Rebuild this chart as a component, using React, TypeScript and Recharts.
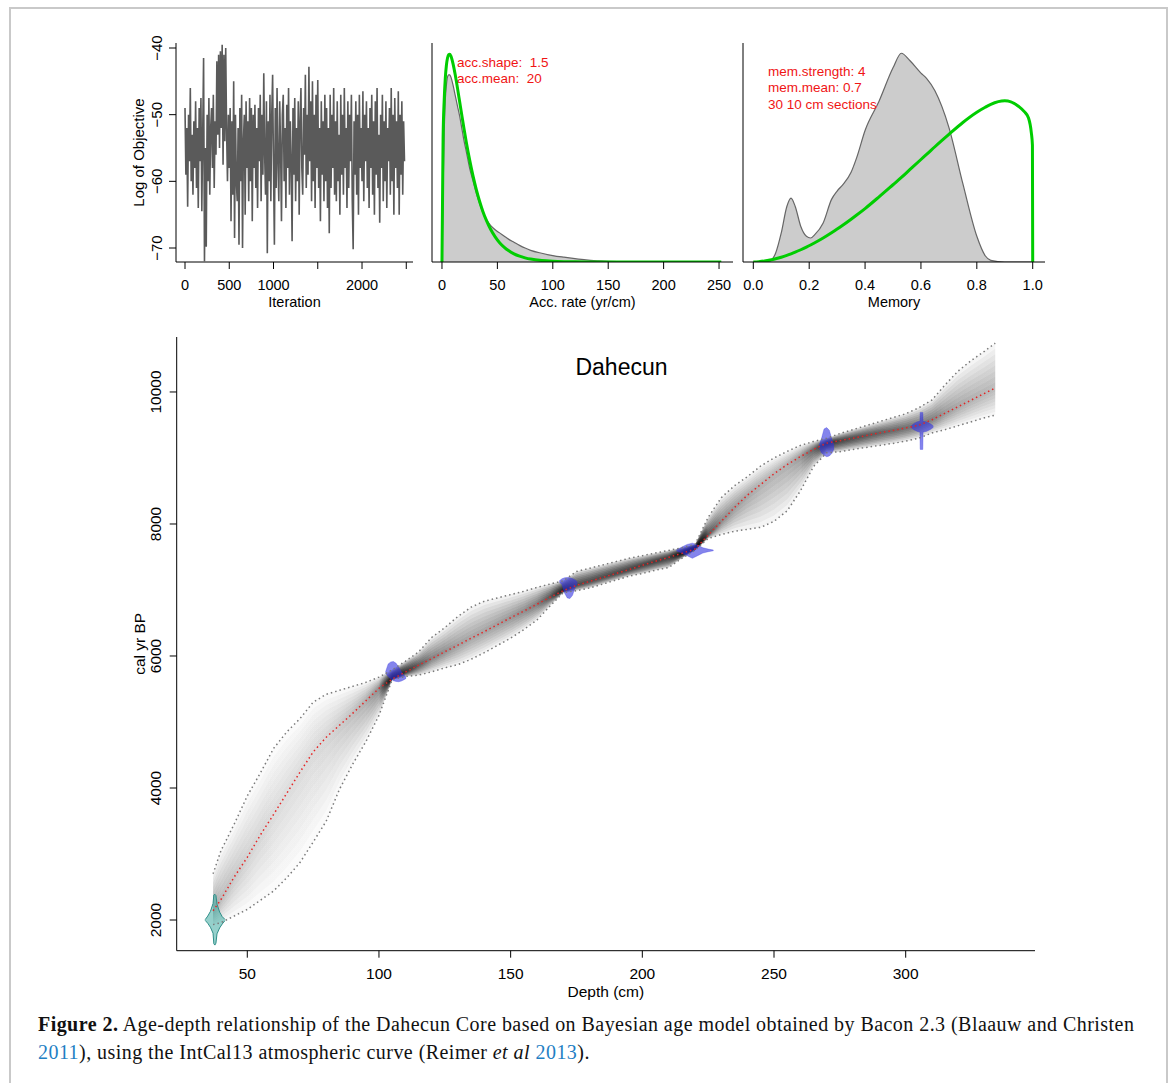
import React from 'react';
import { ComposedChart, LineChart, Line, Area, XAxis, YAxis } from 'recharts';

const SANS = '"Liberation Sans", Arial, Helvetica, sans-serif';
const SERIF = '"Liberation Serif", "Times New Roman", serif';
const LINK = '#1f7fc4';

// --- MCMC trace (log of objective, every 10th iteration)
const traceStep = 10;
const traceValues = [
  -49, -59, -52, -63.8, -50, -57, -46, -60, -53, -62,
  -51, -58, -48, -61, -52, -64, -49, -57, -47.5, -64.5,
  -53, -41.5, -72, -55, -69.8, -50, -60, -47.5, -62, -52,
  -49, -58, -47, -61, -51, -56, -42, -53, -41, -55,
  -40.5, -52, -39.5, -57.5, -41, -54, -40, -52.5, -60, -50,
  -58, -49, -66, -51, -62, -45, -68.5, -50, -60, -63,
  -52, -69.5, -49, -60, -47, -70, -54, -50, -65, -48,
  -58, -51, -63, -47.5, -60, -49, -66, -50, -58, -48.5,
  -61, -52, -64, -49, -57, -47, -63, -50, -59, -43.8,
  -56, -62, -48, -70.8, -51, -60, -47, -63, -50, -44,
  -58, -69.5, -49, -61, -46, -57, -63, -48, -55, -66,
  -50, -47, -60, -52, -64, -48.5, -58, -46, -62, -51,
  -57, -69, -49, -59, -47.5, -63, -52, -60, -48, -65,
  -51, -46, -58, -62, -49, -56, -44, -61, -50, -59,
  -42.8, -57, -48, -63, -45, -60, -50, -64, -47, -58,
  -44.8, -61, -52, -66, -48, -59, -51, -63, -47, -60,
  -49, -64, -52, -67.8, -47, -61, -50, -58, -46, -62,
  -51, -63, -48, -60, -53, -65, -47, -59, -50, -62,
  -46, -58, -52, -64, -48, -61, -50, -57, -47, -63,
  -70.2, -51, -59, -48, -62, -50, -65, -47, -58, -52,
  -60, -46.5, -63, -50, -57, -48, -61, -52, -64, -49,
  -58, -47, -62, -51, -65, -48, -59, -46, -61, -53,
  -66.2, -50, -58, -47, -63, -51, -60, -48, -64, -52,
  -57, -49, -62, -46, -60, -50, -65, -47.5, -58, -51,
  -61, -46.5, -65, -50, -59, -48, -62, -51, -57,
];
const iterTicks = [0, 500, 1000, 1500, 2000, 2500];
const objTicks = [-70, -60, -50, -40];

// --- accumulation rate: prior (green) and posterior (grey)
const accRate = [0, 1, 2, 3, 4, 5, 6, 7, 8, 10, 12, 14, 16, 18, 20, 22, 25, 28, 31, 34, 37, 40, 44, 48, 52, 56, 60, 65, 70, 75, 80, 90, 100, 110, 120, 130, 140, 150, 175, 200, 225, 252];
const accPrior = [0, 0.593, 0.778, 0.884, 0.946, 0.981, 0.997, 0.999, 0.991, 0.953, 0.899, 0.836, 0.769, 0.702, 0.637, 0.575, 0.49, 0.414, 0.348, 0.291, 0.242, 0.201, 0.156, 0.121, 0.093, 0.072, 0.055, 0.039, 0.028, 0.02, 0.014, 0.007, 0.0035, 0.0017, 0.0008, 0.0003, 0.0001, 0, 0, 0, 0, 0];
const accPosterior = [0, 0.35, 0.62, 0.78, 0.85, 0.89, 0.9, 0.9, 0.89, 0.85, 0.8, 0.75, 0.7, 0.64, 0.58, 0.53, 0.45, 0.39, 0.33, 0.28, 0.235, 0.205, 0.175, 0.155, 0.14, 0.125, 0.11, 0.095, 0.08, 0.067, 0.056, 0.042, 0.031, 0.023, 0.016, 0.01, 0.006, 0.003, 0.001, 0, 0, 0];
const accTicks = [0, 50, 100, 150, 200, 250];

// --- memory: prior (green) and posterior (grey)
const memX = [0, 0.02, 0.04, 0.06, 0.08, 0.1, 0.12, 0.135, 0.15, 0.17, 0.19, 0.205, 0.22, 0.25, 0.28, 0.3, 0.32, 0.35, 0.37, 0.4, 0.45, 0.5, 0.53, 0.56, 0.6, 0.62, 0.65, 0.7, 0.75, 0.8, 0.83, 0.85, 0.9, 0.95, 0.97, 0.985, 0.995, 0.999, 1.0];
const memPosterior = [0, 0, 0, 0.005, 0.043, 0.139, 0.266, 0.306, 0.266, 0.17, 0.123, 0.115, 0.131, 0.187, 0.3, 0.34, 0.37, 0.43, 0.5, 0.63, 0.77, 0.93, 1.0, 0.965, 0.905, 0.88, 0.82, 0.645, 0.375, 0.123, 0.03, 0.008, 0, 0, 0, 0, 0, 0, 0];
const memPrior = [0, 0.0013, 0.0045, 0.0092, 0.0154, 0.0229, 0.0317, 0.0391, 0.047, 0.0587, 0.0713, 0.0815, 0.0923, 0.115, 0.14, 0.1575, 0.176, 0.205, 0.225, 0.256, 0.312, 0.37, 0.405, 0.442, 0.491, 0.515, 0.552, 0.611, 0.668, 0.717, 0.741, 0.755, 0.772, 0.745, 0.72, 0.69, 0.62, 0.56, 0];
const memTicks = [0, 0.2, 0.4, 0.6, 0.8, 1.0];

// --- age-depth model
const depth = [37, 40, 45, 50, 55, 60, 65, 70, 75, 80, 85, 90, 95, 100, 105, 110, 115, 120, 125, 130, 135, 140, 145, 150, 155, 160, 165, 170, 175, 180, 185, 190, 195, 200, 205, 210, 215, 220, 225, 230, 235, 240, 245, 250, 255, 260, 265, 270, 275, 280, 285, 290, 295, 300, 305, 310, 315, 320, 325, 330, 334];
const ageMean = [2140, 2310, 2650, 2950, 3290, 3600, 3920, 4240, 4545, 4770, 4950, 5130, 5320, 5510, 5650, 5755, 5860, 5960, 6065, 6165, 6270, 6370, 6475, 6580, 6680, 6785, 6890, 6990, 7070, 7130, 7190, 7250, 7310, 7375, 7435, 7495, 7555, 7620, 7830, 8040, 8250, 8440, 8600, 8760, 8900, 9020, 9130, 9225, 9262, 9300, 9340, 9380, 9415, 9455, 9495, 9580, 9680, 9780, 9880, 9980, 10060];
const ageLow = [1930, 1960, 2060, 2160, 2300, 2440, 2640, 2870, 3180, 3500, 3980, 4360, 4700, 5100, 5640, 5690, 5710, 5760, 5820, 5870, 5950, 6050, 6160, 6270, 6400, 6545, 6760, 6960, 6990, 7030, 7090, 7150, 7210, 7250, 7300, 7340, 7480, 7600, 7780, 7840, 7890, 7920, 7950, 8040, 8200, 8500, 8870, 9080, 9095, 9130, 9160, 9190, 9220, 9255, 9300, 9380, 9430, 9490, 9550, 9610, 9650];
const ageHigh = [2700, 3050, 3450, 3880, 4230, 4600, 4850, 5050, 5300, 5420, 5480, 5540, 5600, 5680, 5790, 5920, 6060, 6280, 6430, 6600, 6740, 6830, 6880, 6930, 6980, 7040, 7090, 7140, 7280, 7330, 7380, 7430, 7480, 7520, 7560, 7600, 7640, 7690, 8100, 8400, 8580, 8720, 8880, 9000, 9100, 9190, 9250, 9300, 9370, 9430, 9490, 9550, 9610, 9670, 9760, 9880, 10110, 10320, 10480, 10620, 10740];
const depthTicks = [50, 100, 150, 200, 250, 300];
const ageTicks = [2000, 4000, 6000, 8000, 10000];

// calibrated dates: [depth, youngest, oldest] across each distribution
const date37 = [[34, 1995, 2005], [35, 1950, 2060], [36, 1890, 2130], [37, 1800, 2250], [37.3, 1640, 2380], [37.7, 1620, 2390], [38.1, 1650, 2370], [38.5, 1790, 2240], [39.5, 1880, 2120], [40.5, 1940, 2050], [41.5, 1990, 2010]];
const date106 = [[102.5, 5740, 5760], [103.5, 5690, 5880], [104.5, 5650, 5910], [105.5, 5625, 5915], [106.5, 5615, 5890], [107.5, 5610, 5830], [108.5, 5620, 5760], [109.5, 5640, 5710], [110.3, 5660, 5680]];
const date171 = [[168.5, 7120, 7140], [169.5, 7080, 7170], [170.5, 6950, 7185], [171.5, 6880, 7190], [172.5, 6870, 7185], [173.5, 6920, 7175], [174.5, 7040, 7150], [175.3, 7110, 7125]];
const date219 = [[213, 7590, 7610], [215, 7560, 7650], [217, 7520, 7690], [219, 7480, 7710], [221, 7520, 7680], [223, 7560, 7640], [225, 7580, 7620], [227, 7595, 7605]];
const date270 = [[267.2, 9150, 9200], [268, 9080, 9290], [269, 9040, 9440], [270, 9020, 9460], [271, 9030, 9420], [272, 9070, 9280], [272.8, 9140, 9190]];
const date306 = [[302, 9460, 9480], [303, 9430, 9520], [304.5, 9400, 9550], [305.4, 9395, 9555], [305.5, 9130, 9690], [306.5, 9130, 9690], [306.6, 9395, 9555], [308, 9405, 9545], [309.5, 9435, 9515], [310.5, 9465, 9485]];
const blueDates = [date106, date171, date219, date270, date306];

// shading: nested shares of the interval around the mean
const bandShares = [1, 0.875, 0.75, 0.625, 0.5, 0.375, 0.25, 0.125];
const shadeK = 40;
const shadeCap = 0.4;

const traceData = traceValues.map((v, i) => ({ it: i * traceStep, v }));
const accData = accRate.map((x, i) => ({ x, prior: accPrior[i], post: accPosterior[i] }));
const memData = memX.map((x, i) => ({ x, prior: memPrior[i], post: memPosterior[i] }));
const ageTable = depth.map((d, i) => {
  const row: any = { depth: d, mean: ageMean[i], low: ageLow[i], high: ageHigh[i] };
  bandShares.forEach((f, k) => {
    row['b' + k] = [ageMean[i] - f * (ageMean[i] - ageLow[i]), ageMean[i] + f * (ageHigh[i] - ageMean[i])];
  });
  return row;
});
const toRange = (rows: number[][]) => rows.map(([d, lo, hi]) => ({ depth: d, r: [lo, hi] }));

const axisStroke = { stroke: '#000', strokeWidth: 1 };
const minus = (v: number) => (v < 0 ? '\u2212' + Math.abs(v) : String(v));

function RotatedYTick(props: any) {
  const { x, y, payload, size, format } = props;
  const label = format ? format(payload.value) : String(payload.value);
  return (
    <text x={x} y={y} transform={`rotate(-90 ${x} ${y})`} textAnchor="middle" fontSize={size} fill="#000">
      {label}
    </text>
  );
}

export default function App() {
  const dRange = depth[depth.length - 1] - depth[0];
  return (
    <div style={{ position: 'absolute', left: 0, top: 0, width: 1170, height: 1083, overflow: 'hidden', background: '#fff', fontFamily: SANS }}>
      {/* frame */}
      <div style={{ position: 'absolute', left: 9, top: 7, width: 1155, height: 1200, borderLeft: '2px solid #c9c9c9', borderTop: '2px solid #c9c9c9', borderRight: '2px solid #c9c9c9' }} />

      <svg width={0} height={0} style={{ position: 'absolute' }}>
        <defs>
          <linearGradient id="bandShade" x1="0" y1="0" x2="1" y2="0">
            {depth.map((d, i) => (
              <stop key={i} offset={(d - depth[0]) / dRange} stopColor="#000" stopOpacity={Math.min(shadeCap, shadeK / (ageHigh[i] - ageLow[i]))} />
            ))}
          </linearGradient>
        </defs>
      </svg>

      {/* log of objective */}
      <div style={{ position: 'absolute', left: 100, top: 20 }}>
        <LineChart width={318} height={300} data={traceData} margin={{ top: 23, right: 5, left: 0, bottom: 0 }}>
          <XAxis type="number" dataKey="it" domain={[-101.7, 2576]} allowDataOverflow ticks={iterTicks} interval={0} height={58} tickSize={7} tickMargin={10.5}
            tickFormatter={(v: number) => (v === 1500 || v === 2500 ? '' : String(v))}
            axisLine={axisStroke} tickLine={axisStroke} tick={{ fill: '#000', fontSize: 14.5 }}
            label={{ value: 'Iteration', position: 'insideBottom', offset: 13.3, fill: '#000', fontSize: 14.5 }} />
          <YAxis type="number" domain={[-72.1, -39.25]} allowDataOverflow ticks={objTicks} interval={0} width={76} tickSize={7} tickMargin={7}
            axisLine={axisStroke} tickLine={axisStroke} tick={(p: any) => <RotatedYTick {...p} size={15} format={minus} />}
            label={{ value: 'Log of Objective', angle: -90, position: 'insideLeft', offset: 39, fill: '#000', fontSize: 15, style: { textAnchor: 'middle' } }} />
          <Line dataKey="v" type="linear" stroke="#5a5a5a" strokeWidth={1.6} dot={false} activeDot={false} isAnimationActive={false} />
        </LineChart>
      </div>

      {/* accumulation rate */}
      <div style={{ position: 'absolute', left: 420, top: 20 }}>
        <ComposedChart width={318} height={300} data={accData} margin={{ top: 23, right: 5, left: 0, bottom: 0 }}>
          <XAxis type="number" dataKey="x" domain={[-9, 262.6]} allowDataOverflow ticks={accTicks} interval={0} height={58} tickSize={7} tickMargin={10.5}
            axisLine={axisStroke} tickLine={axisStroke} tick={{ fill: '#000', fontSize: 14.5 }}
            label={{ value: 'Acc. rate (yr/cm)', position: 'insideBottom', offset: 13.3, fill: '#000', fontSize: 14.5 }} />
          <YAxis type="number" domain={[0, 1.053]} allowDataOverflow width={12} tick={false} tickLine={false} axisLine={axisStroke} />
          <Area dataKey="post" type="monotone" fill="#cccccc" fillOpacity={1} stroke="#666" strokeWidth={1.2} isAnimationActive={false} activeDot={false} />
          <Line dataKey="prior" type="monotone" stroke="#00cd00" strokeWidth={3} dot={false} activeDot={false} isAnimationActive={false} />
        </ComposedChart>
      </div>

      {/* memory */}
      <div style={{ position: 'absolute', left: 735, top: 20 }}>
        <ComposedChart width={315} height={300} data={memData} margin={{ top: 23, right: 5, left: 0, bottom: 0 }}>
          <XAxis type="number" dataKey="x" domain={[-0.0369, 1.044]} allowDataOverflow ticks={memTicks} interval={0} height={58} tickSize={7} tickMargin={10.5}
            tickFormatter={(v: number) => v.toFixed(1)}
            axisLine={axisStroke} tickLine={axisStroke} tick={{ fill: '#000', fontSize: 14.5 }}
            label={{ value: 'Memory', position: 'insideBottom', offset: 13.3, fill: '#000', fontSize: 14.5 }} />
          <YAxis type="number" domain={[0, 1.049]} allowDataOverflow width={8} tick={false} tickLine={false} axisLine={axisStroke} />
          <Area dataKey="post" type="monotone" fill="#cccccc" fillOpacity={1} stroke="#666" strokeWidth={1.2} isAnimationActive={false} activeDot={false} />
          <Line dataKey="prior" type="monotone" stroke="#00cd00" strokeWidth={3} dot={false} activeDot={false} isAnimationActive={false} />
        </ComposedChart>
      </div>

      <div style={{ position: 'absolute', left: 457, top: 55, color: '#f01515', fontSize: 13.5, lineHeight: '16px', whiteSpace: 'pre' }}>
        <div>acc.shape:  1.5</div>
        <div>acc.mean:  20</div>
      </div>
      <div style={{ position: 'absolute', left: 768, top: 63.6, color: '#f01515', fontSize: 13.5, lineHeight: '16.5px', whiteSpace: 'pre' }}>
        <div>mem.strength: 4</div>
        <div>mem.mean: 0.7</div>
        <div>30 10 cm sections</div>
      </div>

      {/* age-depth model */}
      <div style={{ position: 'absolute', left: 100, top: 320 }}>
        <ComposedChart width={940} height={690} data={ageTable} margin={{ top: 17, right: 5, left: 0, bottom: 0 }}>
          <XAxis type="number" dataKey="depth" domain={[23.2, 349.1]} allowDataOverflow ticks={depthTicks} interval={0} height={59.3} tickSize={7} tickMargin={10}
            axisLine={axisStroke} tickLine={axisStroke} tick={{ fill: '#000', fontSize: 15.5 }}
            label={{ value: 'Depth (cm)', position: 'insideBottom', offset: 13, fill: '#000', fontSize: 15.5 }} />
          <YAxis type="number" domain={[1535, 10833]} allowDataOverflow ticks={ageTicks} interval={0} width={76.7} tickSize={7} tickMargin={8.2}
            axisLine={axisStroke} tickLine={axisStroke} tick={(p: any) => <RotatedYTick {...p} size={15.5} />}
            label={{ value: 'cal yr BP', angle: -90, position: 'insideLeft', offset: 40, fill: '#000', fontSize: 15.5, style: { textAnchor: 'middle' } }} />
          {bandShares.map((f, k) => (
            <Area key={'b' + k} dataKey={'b' + k} type="linear" stroke="none" fill="url(#bandShade)" fillOpacity={1} isAnimationActive={false} activeDot={false} />
          ))}
          <Area data={toRange(date37)} dataKey="r" type="linear" fill="#4fb0a8" fillOpacity={0.6} stroke="#2f8f89" strokeWidth={1} isAnimationActive={false} activeDot={false} />
          {blueDates.map((dt, k) => (
            <Area key={'d' + k} data={toRange(dt)} dataKey="r" type="linear" fill="#3232e0" fillOpacity={0.6} stroke="#3232e0" strokeOpacity={0.4} strokeWidth={0.8} isAnimationActive={false} activeDot={false} />
          ))}
          <Line dataKey="high" type="linear" stroke="#7a7a7a" strokeWidth={1.5} strokeDasharray="1.5 3" dot={false} activeDot={false} isAnimationActive={false} />
          <Line dataKey="low" type="linear" stroke="#7a7a7a" strokeWidth={1.5} strokeDasharray="1.5 3" dot={false} activeDot={false} isAnimationActive={false} />
          <Line dataKey="mean" type="linear" stroke="#e42525" strokeWidth={1.5} strokeDasharray="1.5 3" dot={false} activeDot={false} isAnimationActive={false} />
        </ComposedChart>
      </div>
      <div style={{ position: 'absolute', left: 521.5, top: 353, width: 200, textAlign: 'center', fontSize: 23, lineHeight: '28px', color: '#000' }}>Dahecun</div>

      {/* caption */}
      <div style={{ position: 'absolute', left: 38, top: 1010, fontFamily: SERIF, fontSize: 20, letterSpacing: '0.45px', lineHeight: '28px', whiteSpace: 'nowrap', color: '#111' }}>
        <div><b>Figure 2.</b> Age-depth relationship of the Dahecun Core based on Bayesian age model obtained by Bacon 2.3 (Blaauw and Christen</div>
        <div><span style={{ color: LINK }}>2011</span>), using the IntCal13 atmospheric curve (Reimer <i>et al</i> <span style={{ color: LINK }}>2013</span>).</div>
      </div>
    </div>
  );
}
